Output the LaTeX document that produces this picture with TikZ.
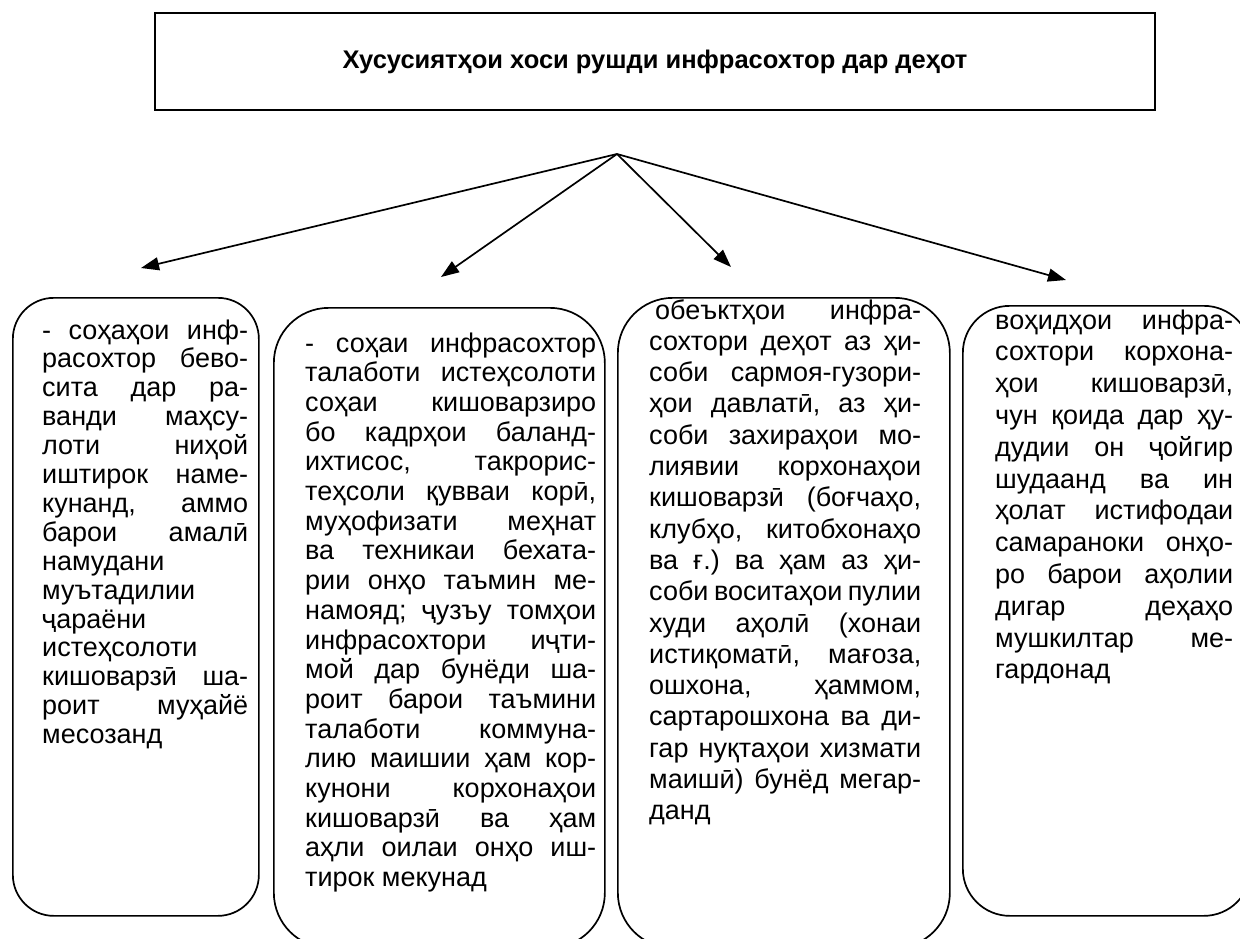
\documentclass[tikz,border=0pt]{standalone}
\usepackage{fontspec}
\setmainfont{Liberation Sans}
\usetikzlibrary{arrows.meta}
\newlength{\colw}
\newcommand{\JL}[1]{\makebox[\colw][s]{#1}}
\newcommand{\setcol}[1]{\setlength{\colw}{#1}\frenchspacing\spaceskip=7.5pt plus 40pt minus 3pt\relax}
\tikzset{
  boxshape/.style={draw=black, line width=1.7pt, fill=none, inner sep=0pt, anchor=north west},
  txt/.style={inner sep=0pt, align=left, anchor=base west},
  arr/.style={line width=1.7pt, -{Triangle[length=18pt,width=13pt]}},
}
\begin{document}
\begin{tikzpicture}[x=1pt,y=-1pt]
\clip (0,0) rectangle (1240,938);
\fill[white] (0,0) rectangle (1240,938);

% title
\node[draw=black, line width=2.3pt, minimum width=1000pt, minimum height=97pt, inner sep=0pt,
      font=\bfseries\fontsize{25.5}{30}\selectfont] (title) at (655,61.5)
  {Хусусиятҳои хоси рушди инфрасохтор дар деҳот};

% boxes
\node[boxshape, rounded corners=41pt, minimum width=246pt, minimum height=618pt] (b1) at (12,297) {};
\node[boxshape, rounded corners=55pt, minimum width=331pt, minimum height=640pt] (b2) at (273,307) {};
\node[boxshape, rounded corners=55pt, minimum width=332pt, minimum height=650pt] (b3) at (617,297) {};
\node[boxshape, rounded corners=47pt, minimum width=288pt, minimum height=610pt] (b4) at (962,305) {};

% arrows
\coordinate (hub) at (617,154);
\coordinate (e1) at (141,268);
\coordinate (e2) at (441,277);
\coordinate (e3) at (731,267);
\coordinate (e4) at (1066,280);
\draw[arr] (hub) -- (e1);
\draw[arr] (hub) -- (e2);
\draw[arr] (hub) -- (e3);
\draw[arr] (hub) -- (e4);

% texts
\node[txt, text width=206pt, font=\fontsize{27}{28.9}\selectfont] (t1) at (42,339) {\setcol{206pt}%
\JL{- соҳаҳои инф-}\\
\JL{расохтор бево-}\\
\JL{сита дар ра-}\\
\JL{ванди маҳсу-}\\
\JL{лоти ниҳой}\\
\JL{иштирок наме-}\\
\JL{кунанд, аммо}\\
\JL{барои амалӣ}\\
намудани\\
муътадилии\\
ҷараёни\\
истеҳсолоти\\
\JL{кишоварзӣ ша-}\\
\JL{роит муҳайё}\\
месозанд};

\node[txt, text width=291pt, font=\fontsize{27}{29.7}\selectfont] (t2) at (305,352) {\setcol{291pt}%
\JL{- соҳаи инфрасохтор}\\
\JL{талаботи истеҳсолоти}\\
\JL{соҳаи кишоварзиро}\\
\JL{бо кадрҳои баланд-}\\
\JL{ихтисос, такрорис-}\\
\JL{теҳсоли қувваи корӣ,}\\
\JL{муҳофизати меҳнат}\\
\JL{ва техникаи бехата-}\\
\JL{рии онҳо таъмин ме-}\\
\JL{намояд; ҷузъу томҳои}\\
\JL{инфрасохтори иҷти-}\\
\JL{мой дар бунёди ша-}\\
\JL{роит барои таъмини}\\
\JL{талаботи коммуна-}\\
\JL{лию маишии ҳам кор-}\\
\JL{кунони корхонаҳои}\\
\JL{кишоварзӣ ва ҳам}\\
\JL{аҳли оилаи онҳо иш-}\\
тирок мекунад};

\node[txt, text width=272pt, font=\fontsize{27}{31.3}\selectfont] (t3) at (649,319) {\setcol{272pt}%
\JL{\hspace{6pt}обеъктҳои инфра-}\\
\JL{сохтори деҳот аз ҳи-}\\
\JL{соби сармоя-гузори-}\\
\JL{ҳои давлатӣ, аз ҳи-}\\
\JL{соби захираҳои мо-}\\
\JL{лиявии корхонаҳои}\\
\JL{кишоварзӣ (боғчаҳо,}\\
\JL{клубҳо, китобхонаҳо}\\
\JL{ва ғ.) ва ҳам аз ҳи-}\\
\JL{соби воситаҳои пулии}\\
\JL{худи аҳолӣ (хонаи}\\
\JL{истиқоматӣ, мағоза,}\\
\JL{ошхона, ҳаммом,}\\
\JL{сартарошхона ва ди-}\\
\JL{гар нуқтаҳои хизмати}\\
\JL{маишӣ) бунёд мегар-}\\
данд};

\node[txt, text width=238pt, font=\fontsize{27}{31.8}\selectfont] (t4) at (995,329) {\setcol{238pt}%
\JL{воҳидҳои инфра-}\\
\JL{сохтори корхона-}\\
\JL{ҳои кишоварзӣ,}\\
\JL{чун қоида дар ҳу-}\\
\JL{дудии он ҷойгир}\\
\JL{шудаанд ва ин}\\
\JL{ҳолат истифодаи}\\
\JL{самараноки онҳо-}\\
\JL{ро барои аҳолии}\\
\JL{дигар деҳаҳо}\\
\JL{мушкилтар ме-}\\
гардонад};
\end{tikzpicture}
\end{document}
